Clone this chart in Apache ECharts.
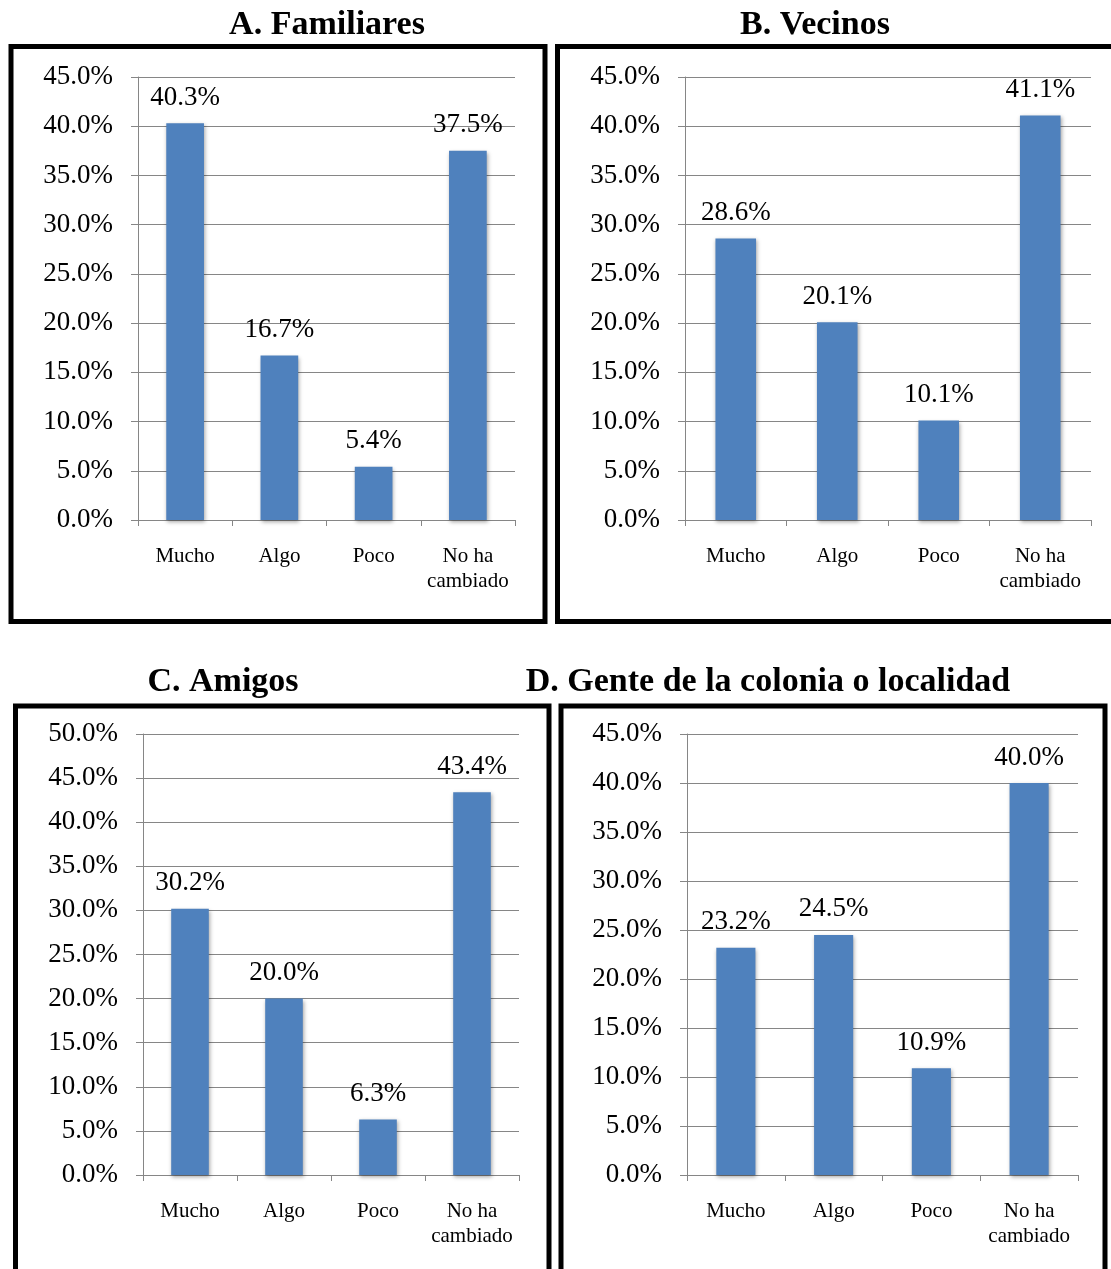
<!DOCTYPE html>
<html>
<head>
<meta charset="utf-8">
<script src="https://cdn.jsdelivr.net/npm/echarts@6/dist/echarts.min.js"></script>
<style>
  html, body { margin: 0; padding: 0; background: #ffffff; }
  #chart { width: 1111px; height: 1269px; }
</style>
</head>
<body>
<div id="chart"></div>
<script>
// Survey answers: how much each relationship has changed
const categories = ['Mucho', 'Algo', 'Poco', 'No ha\ncambiado'];
const familiares = [40.3, 16.7, 5.4, 37.5];
const vecinos = [28.6, 20.1, 10.1, 41.1];
const amigos = [30.2, 20.0, 6.3, 43.4];
const genteColonia = [23.2, 24.5, 10.9, 40.0];
const panelTitles = ['A. Familiares', 'B. Vecinos', 'C. Amigos', 'D. Gente de la colonia o localidad'];
const axisMax = [45, 45, 50, 45];
const axisStep = 5;

const panelValues = [familiares, vecinos, amigos, genteColonia];

// Layout of the four panels (plot area, framed box, heading position)
const panels = [
  { grid: { left: 138, top: 77, width: 377, height: 443 }, box: [11, 46.5, 534, 575], title: [327, 25] },
  { grid: { left: 685, top: 77, width: 406, height: 443 }, box: [557.5, 46.5, 560, 575], title: [815, 25] },
  { grid: { left: 143, top: 734, width: 376, height: 441 }, box: [15.5, 706, 533.5, 580], title: [223, 682] },
  { grid: { left: 687, top: 734, width: 391, height: 441 }, box: [561, 706, 544, 580], title: [768, 682] }
];

const SERIF = '"Liberation Serif", "DejaVu Serif", serif';
const GREY = '#868686';
const BAR = '#4F81BD';

const pct = v => Number(v).toFixed(1) + '%';

const grids = [], xAxes = [], yAxes = [], series = [], graphics = [];

panels.forEach((p, i) => {
  grids.push(Object.assign({ containLabel: false }, p.grid));

  xAxes.push({
    type: 'category',
    gridIndex: i,
    data: categories,
    axisLine: { show: true, lineStyle: { color: GREY, width: 1 } },
    axisTick: { show: true, length: 6, lineStyle: { color: GREY } },
    axisLabel: {
      interval: 0,
      color: '#000',
      fontFamily: SERIF,
      fontSize: 21,
      lineHeight: 25,
      margin: 24
    },
    splitLine: { show: false }
  });

  yAxes.push({
    type: 'value',
    gridIndex: i,
    min: 0,
    max: axisMax[i],
    interval: axisStep,
    axisLine: { show: true, lineStyle: { color: GREY, width: 1 } },
    axisTick: { show: true, length: 7, lineStyle: { color: GREY } },
    splitLine: { show: true, lineStyle: { color: GREY, width: 1 } },
    axisLabel: {
      color: '#000',
      fontFamily: SERIF,
      fontSize: 27,
      margin: 25,
      padding: [5, 0, 0, 0],
      formatter: v => pct(v)
    }
  });

  series.push({
    type: 'bar',
    xAxisIndex: i,
    yAxisIndex: i,
    data: panelValues[i],
    barWidth: '40%',
    itemStyle: {
      color: BAR,
      shadowColor: 'rgba(0,0,0,0.35)',
      shadowBlur: 4,
      shadowOffsetX: 1,
      shadowOffsetY: 2
    },
    label: {
      show: true,
      position: 'top',
      distance: 12,
      color: '#000',
      fontFamily: SERIF,
      fontSize: 27,
      formatter: d => pct(d.value)
    },
    animation: false
  });

  // framed box around each panel
  graphics.push({
    type: 'rect',
    z: 100,
    shape: { x: p.box[0], y: p.box[1], width: p.box[2], height: p.box[3] },
    style: { fill: 'none', stroke: '#000', lineWidth: 5 }
  });

  // panel heading
  graphics.push({
    type: 'text',
    x: p.title[0],
    y: p.title[1],
    style: {
      text: panelTitles[i],
      font: 'bold 34px ' + SERIF,
      fill: '#000',
      align: 'center',
      verticalAlign: 'middle'
    }
  });
});

const chart = echarts.init(document.getElementById('chart'), null, { renderer: 'canvas' });
chart.setOption({
  backgroundColor: '#ffffff',
  animation: false,
  grid: grids,
  xAxis: xAxes,
  yAxis: yAxes,
  series: series,
  graphic: graphics
});
</script>
</body>
</html>
